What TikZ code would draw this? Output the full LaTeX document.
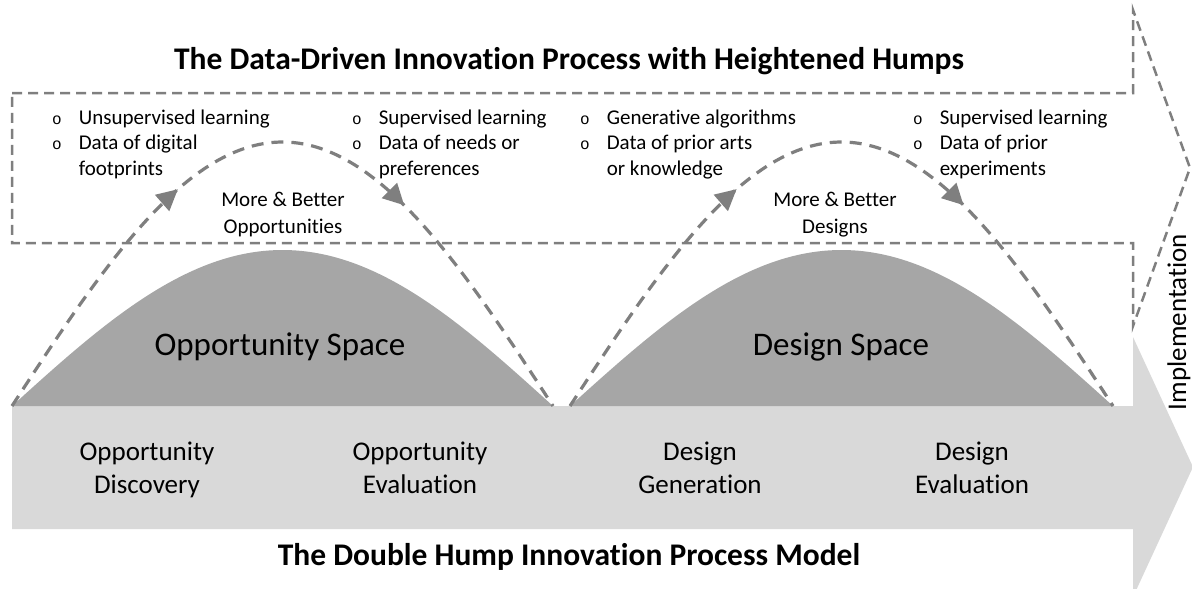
\documentclass[tikz,border=0pt]{standalone}
\usepackage{fontspec}
\setmainfont{Carlito}[Ligatures=NoCommon]
\newfontfamily\monof{Liberation Mono}
\usetikzlibrary{arrows.meta,decorations.markings}
\definecolor{dashgray}{HTML}{7F7F7F}
\definecolor{humpgray}{HTML}{A6A6A6}
\definecolor{bodygray}{HTML}{D9D9D9}
\newcommand{\bl}{{\monof\fontsize{16pt}{16pt}\selectfont o}}
\begin{document}
\begin{tikzpicture}[x=1pt,y=-1pt,
  boxdash/.style={draw=dashgray,line width=2.5pt,dash pattern=on 10pt off 6pt},
  curvedash/.style={draw=dashgray,line width=3.2pt,dash pattern=on 12pt off 8pt,
    postaction={decorate},
    decoration={markings,
      mark=at position 0.35 with {\arrow[dashgray]{Triangle[length=21pt,width=21pt]}},
      mark=at position 0.68 with {\arrow[dashgray]{Triangle[length=21pt,width=21pt]}}}},
  bultext/.style={font=\fontsize{21pt}{25.7pt}\selectfont, inner sep=0pt, anchor=base west},
  midtext/.style={font=\fontsize{21pt}{27pt}\selectfont, align=center, inner sep=0pt},
  steptext/.style={font=\fontsize{27pt}{33pt}\selectfont, align=center, inner sep=0pt},
  spacetext/.style={font=\fontsize{33pt}{38pt}\selectfont, inner sep=0pt},
  titletext/.style={font=\bfseries\fontsize{31.5pt}{36pt}\selectfont, inner sep=0pt}
]
\useasboundingbox (0,0) rectangle (1192,589);
% grey process arrow
\fill[bodygray] (12,406) -- (1133,406) -- (1133,337) -- (1193,467) -- (1133,597) -- (1133,529) -- (12,529) -- cycle;
% humps
\fill[humpgray] plot[domain=0:180,samples=80,smooth] ({12+3.00556*\x},{406-156*sin(\x)}) -- cycle;
\fill[humpgray] plot[domain=0:180,samples=80,smooth] ({570+3.01667*\x},{406-156*sin(\x)}) -- cycle;
% dashed block arrow
\draw[boxdash] (12,93) -- (1133,93) -- (1133,10) -- (1190,168) -- (1133,326) -- (1133,243) -- (12,243) -- cycle;
% heightened humps
\draw[curvedash] plot[domain=0:180,samples=80,smooth] ({12+3.00556*\x},{406-264*sin(\x)});
\draw[curvedash] plot[domain=0:180,samples=80,smooth] ({570+3.01667*\x},{406-264*sin(\x)});
% titles
\node[titletext] (t1) at (569,62) {The Data-Driven Innovation Process with Heightened Humps\strut};
\node[titletext] (t2) at (569,558) {The Double Hump Innovation Process Model\strut};
% bullets
\node[bultext] (c1) at (52,124) {\begin{tabular}[t]{@{}l@{\hspace{17pt}}l@{}}\bl & Unsupervised learning\\ \bl & Data of digital\\ & footprints\end{tabular}};
\node[bultext] (c2) at (352,124) {\begin{tabular}[t]{@{}l@{\hspace{17pt}}l@{}}\bl & Supervised learning\\ \bl & Data of needs or\\ & preferences\end{tabular}};
\node[bultext] (c3) at (580,124) {\begin{tabular}[t]{@{}l@{\hspace{17pt}}l@{}}\bl & Generative algorithms\\ \bl & Data of prior arts\\ & or knowledge\end{tabular}};
\node[bultext] (c4) at (913,124) {\begin{tabular}[t]{@{}l@{\hspace{17pt}}l@{}}\bl & Supervised learning\\ \bl & Data of prior\\ & experiments\end{tabular}};
% more & better
\node[midtext] (m1) at (283,215) {More \& Better\strut\\Opportunities\strut};
\node[midtext] (m2) at (835,215) {More \& Better\strut\\Designs\strut};
% spaces
\node[spacetext] (s1) at (280,348) {Opportunity Space\strut};
\node[spacetext] (s2) at (841,348) {Design Space\strut};
% steps
\node[steptext] (p1) at (147,470) {Opportunity\strut\\Discovery\strut};
\node[steptext] (p2) at (420,470) {Opportunity\strut\\Evaluation\strut};
\node[steptext] (p3) at (700,470) {Design\strut\\Generation\strut};
\node[steptext] (p4) at (972,470) {Design\strut\\Evaluation\strut};
% implementation
\node[font=\fontsize{27pt}{30pt}\selectfont, rotate=90, inner sep=0pt] (impl) at (1180,322) {Implementation\strut};
\end{tikzpicture}
\end{document}
